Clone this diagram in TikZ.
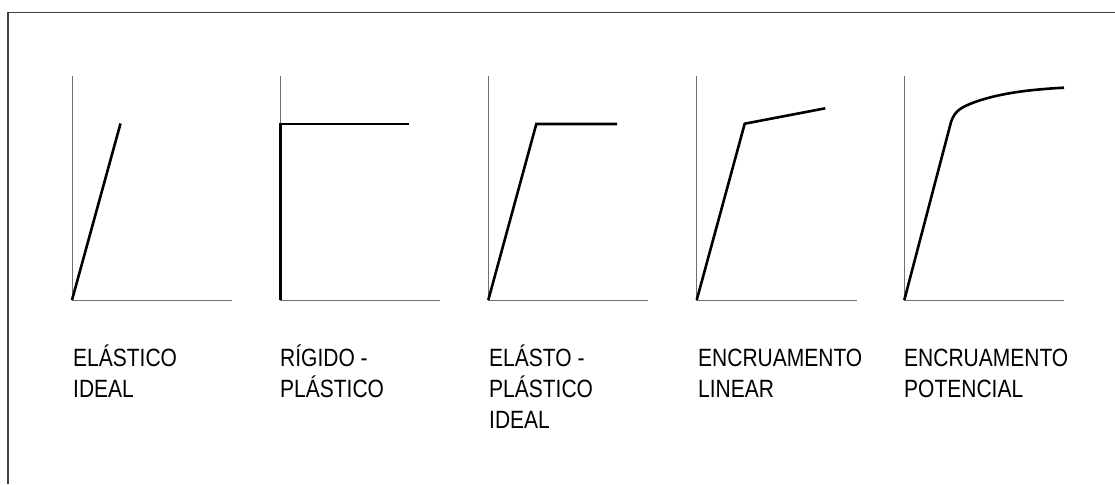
\documentclass[tikz,border=0pt]{standalone}
\usepackage{fontspec}
\setmainfont{Liberation Sans}[FakeStretch=0.84]
\usepackage{tikz}
\definecolor{cinzaMoldura}{HTML}{404040}
\definecolor{cinzaEixo}{HTML}{707070}
\tikzset{
  eixo/.style={cinzaEixo,line width=0.8pt},
  curva/.style={black,line width=2.6pt,line join=miter},
  rotulo/.style={anchor=base west,align=left,inner sep=0pt,
    font=\fontsize{25}{31}\selectfont}
}

\begin{document}
\begin{tikzpicture}[x=1pt,y=-1pt]
\useasboundingbox (0,0) rectangle (1115,484);
\draw[cinzaMoldura,line width=1.2pt] (8,484)--(8,12.5)--(1115,12.5);
% eixos
\draw[eixo] (72,76)--(72,300)--(232,300);
\draw[eixo] (280.3,76)--(280.3,300)--(440.3,300);
\draw[eixo] (488.3,76)--(488.3,300)--(648.3,300);
\draw[eixo] (696.7,76)--(696.7,300)--(856.7,300);
\draw[eixo] (904.3,76)--(904.3,300)--(1064.3,300);
% curvas
\draw[curva] (72,300)--(120.5,123.5);
\draw[curva] (280.3,300)--(280.3,124)--(409,124);
\draw[curva] (488.3,300)--(536.3,124)--(617,124);
\draw[curva] (696.7,300)--(744.7,123.7)--(825.3,108.3);
\draw[curva] (904.3,300)--(951,122) .. controls (955,110) and (962,107) .. (975,102)
  .. controls (995,95) and (1020,90) .. (1064,87.7);
% rotulos (base = ultima linha)
\node[rotulo] (elastico) at (73,397) {ELÁSTICO\\IDEAL};
\node[rotulo] (rigido) at (280,397) {RÍGIDO -\\PLÁSTICO};
\node[rotulo] (elastoPlastico) at (489,428) {ELÁSTO -\\PLÁSTICO\\IDEAL};
\node[rotulo] (linear) at (698,397) {ENCRUAMENTO\\LINEAR};
\node[rotulo] (potencial) at (904,397) {ENCRUAMENTO\\POTENCIAL};
\end{tikzpicture}
\end{document}
